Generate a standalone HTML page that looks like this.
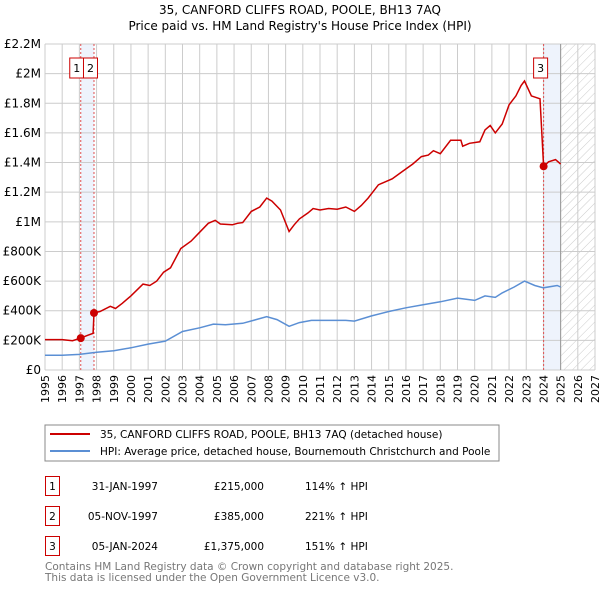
<!DOCTYPE html>
<html><head><meta charset="utf-8"><style>
body{margin:0;background:#fff;font-family:"DejaVu Sans","Liberation Sans",sans-serif;}
svg{display:block}
</style></head><body>
<svg width="600" height="590" viewBox="0 0 600 590" xmlns="http://www.w3.org/2000/svg" id="chart" font-family="DejaVu Sans, Liberation Sans, sans-serif">
<defs><pattern id="hatch" width="6" height="6" patternUnits="userSpaceOnUse" patternTransform="rotate(45)"><line x1="0" y1="0" x2="0" y2="6" stroke="#ccc" stroke-width="1"/></pattern></defs>
<text x="300" y="14" text-anchor="middle" font-size="12">35, CANFORD CLIFFS ROAD, POOLE, BH13 7AQ</text>
<text x="300" y="30" text-anchor="middle" font-size="12">Price paid vs. HM Land Registry's House Price Index (HPI)</text>
<g id="plot"></g>
<rect x="45" y="425" width="454" height="36" fill="#fff" stroke="#888"/>
<line x1="50" y1="434" x2="90" y2="434" stroke="#cc0000" stroke-width="2"/>
<text x="100" y="438" font-size="10.5">35, CANFORD CLIFFS ROAD, POOLE, BH13 7AQ (detached house)</text>
<line x1="50" y1="451" x2="90" y2="451" stroke="#5b8fd4" stroke-width="2"/>
<text x="100" y="455" font-size="10.5">HPI: Average price, detached house, Bournemouth Christchurch and Poole</text>
<g font-size="10.5">
<rect x="45.5" y="476.5" width="14" height="19" fill="none" stroke="#cc0000"/><text x="52.5" y="490" text-anchor="middle">1</text>
<text x="158" y="490" text-anchor="end">31-JAN-1997</text><text x="264" y="490" text-anchor="end">£215,000</text><text x="305" y="490">114% ↑ HPI</text>
<rect x="45.5" y="506.5" width="14" height="19" fill="none" stroke="#cc0000"/><text x="52.5" y="520" text-anchor="middle">2</text>
<text x="158" y="520" text-anchor="end">05-NOV-1997</text><text x="264" y="520" text-anchor="end">£385,000</text><text x="305" y="520">221% ↑ HPI</text>
<rect x="45.5" y="536.5" width="14" height="19" fill="none" stroke="#cc0000"/><text x="52.5" y="550" text-anchor="middle">3</text>
<text x="158" y="550" text-anchor="end">05-JAN-2024</text><text x="264" y="550" text-anchor="end">£1,375,000</text><text x="305" y="550">151% ↑ HPI</text>
</g>
<text x="45" y="570" font-size="10.5" fill="#777">Contains HM Land Registry data © Crown copyright and database right 2025.</text>
<text x="45" y="581" font-size="10.5" fill="#777">This data is licensed under the Open Government Licence v3.0.</text>
</svg>
<script>
const yTicks=[0,200,400,600,800,1000,1200,1400,1600,1800,2000,2200];
const yTickLabels=["£0","£200K","£400K","£600K","£800K","£1M","£1.2M","£1.4M","£1.6M","£1.8M","£2M","£2.2M"];
const years=[1995,1996,1997,1998,1999,2000,2001,2002,2003,2004,2005,2006,2007,2008,2009,2010,2011,2012,2013,2014,2015,2016,2017,2018,2019,2020,2021,2022,2023,2024,2025,2026,2027];
const propT=[1995,1996,1996.6,1997.08,1997.5,1997.8,1997.85,1998.2,1998.8,1999.1,1999.5,2000,2000.7,2001.1,2001.5,2001.9,2002.3,2002.9,2003.5,2004,2004.5,2004.9,2005.2,2005.9,2006.2,2006.5,2007,2007.5,2007.9,2008.2,2008.7,2009.2,2009.5,2009.8,2010.3,2010.6,2011,2011.5,2012,2012.5,2013,2013.4,2013.8,2014.4,2015.2,2015.8,2016.4,2016.9,2017.3,2017.6,2018,2018.6,2019.2,2019.3,2019.7,2020.3,2020.6,2020.9,2021.2,2021.6,2022,2022.4,2022.7,2022.9,2023.3,2023.8,2024.01,2024.3,2024.7,2025];
const propV=[205,205,198,215,235,248,385,395,430,415,450,500,580,570,600,660,690,820,870,930,990,1010,985,980,990,995,1070,1100,1160,1140,1080,935,980,1020,1060,1090,1080,1090,1085,1100,1070,1110,1160,1250,1290,1340,1390,1440,1450,1480,1460,1550,1550,1510,1530,1540,1620,1650,1600,1660,1790,1850,1920,1950,1850,1830,1375,1405,1420,1390];
const hpiT=[1995,1996,1997,1998,1999,2000,2001,2002,2003,2004,2004.8,2005.5,2006.5,2007.9,2008.5,2009.2,2009.8,2010.5,2012.5,2013,2014,2015,2016,2017,2018,2019,2020,2020.6,2021.2,2021.6,2022.3,2022.9,2023.5,2024,2024.8,2025];
const hpiV=[100,100,105,120,130,150,175,195,260,285,310,305,315,360,340,295,320,335,335,330,365,395,420,440,460,485,470,500,490,520,560,600,570,555,570,560];
const salesT=[1997.08,1997.85,2024.01];
const salesV=[215,385,1375];
const salesLbl=["1","2","3"];
const X0=45,X1=595,Y0=370,Y1=44;
const x=t=>X0+(t-1995)/(2027-1995)*(X1-X0);
const y=v=>Y0-v/2200*(Y0-Y1);
const NS="http://www.w3.org/2000/svg";
const g=document.getElementById('plot');
function mk(tag,attrs,parent){const e=document.createElementNS(NS,tag);for(const k in attrs)e.setAttribute(k,attrs[k]);(parent||g).appendChild(e);return e;}
let b=mk('rect',{x:x(salesT[0]),y:Y1,width:x(salesT[1])-x(salesT[0]),height:Y0-Y1,fill:'#eef3fc'});


b=mk('rect',{x:x(salesT[2]),y:Y1,width:x(2025)-x(salesT[2]),height:Y0-Y1,fill:'#eef3fc'});


b=mk('rect',{x:x(2025),y:Y1,width:x(2027)-x(2025),height:Y0-Y1,fill:'url(#hatch)'});


years.forEach(yr=>{
 const l=mk('line',{x1:x(yr),x2:x(yr),y1:Y1,y2:Y0,stroke:'#ccc','stroke-width':1});
 
 
 const t=mk('text',{x:0,y:0,'font-size':11,'text-anchor':'end',transform:`translate(${x(yr)+4},${Y0+5}) rotate(-90)`});
 t.textContent=yr;
 
 
});
yTicks.forEach((v,i)=>{
 const l=mk('line',{x1:X0,x2:X1,y1:y(v),y2:y(v),stroke:'#ccc','stroke-width':1});
 
 
 const t=mk('text',{x:X0-4,y:y(v)+4,'font-size':12,'text-anchor':'end'});
 t.textContent=yTickLabels[i];
 
 
});
let ln=mk('line',{x1:x(2025),x2:x(2025),y1:Y1,y2:Y0,stroke:'#999','stroke-width':1});


salesT.forEach((t,i)=>{
 const l=mk('line',{x1:x(t),x2:x(t),y1:Y1,y2:Y0,stroke:'#e05050','stroke-width':1,'stroke-dasharray':'2,2'});
 
 
});
const path=(T,V)=>T.map((t,i)=>(i?'L':'M')+x(t).toFixed(1)+','+y(V[i]).toFixed(1)).join('');
let p=mk('path',{d:path(hpiT,hpiV),fill:'none',stroke:'#5b8fd4','stroke-width':1.5});


p=mk('path',{d:path(propT,propV),fill:'none',stroke:'#cc0000','stroke-width':1.5});


const boxOff=[-11,-10.5,-10];
salesT.forEach((t,i)=>{
 const bx=x(t)+boxOff[i];
 const m=mk('circle',{cx:x(t),cy:y(salesV[i]),r:4,fill:'#cc0000'});
 
 
 const r=mk('rect',{x:bx,y:58,width:14,height:20,fill:'#fff',stroke:'#cc0000'});
 
 
 const tx=mk('text',{x:bx+7,y:72,'font-size':11,'text-anchor':'middle'});
 tx.textContent=salesLbl[i];
 
 
});
</script>
</body></html>
